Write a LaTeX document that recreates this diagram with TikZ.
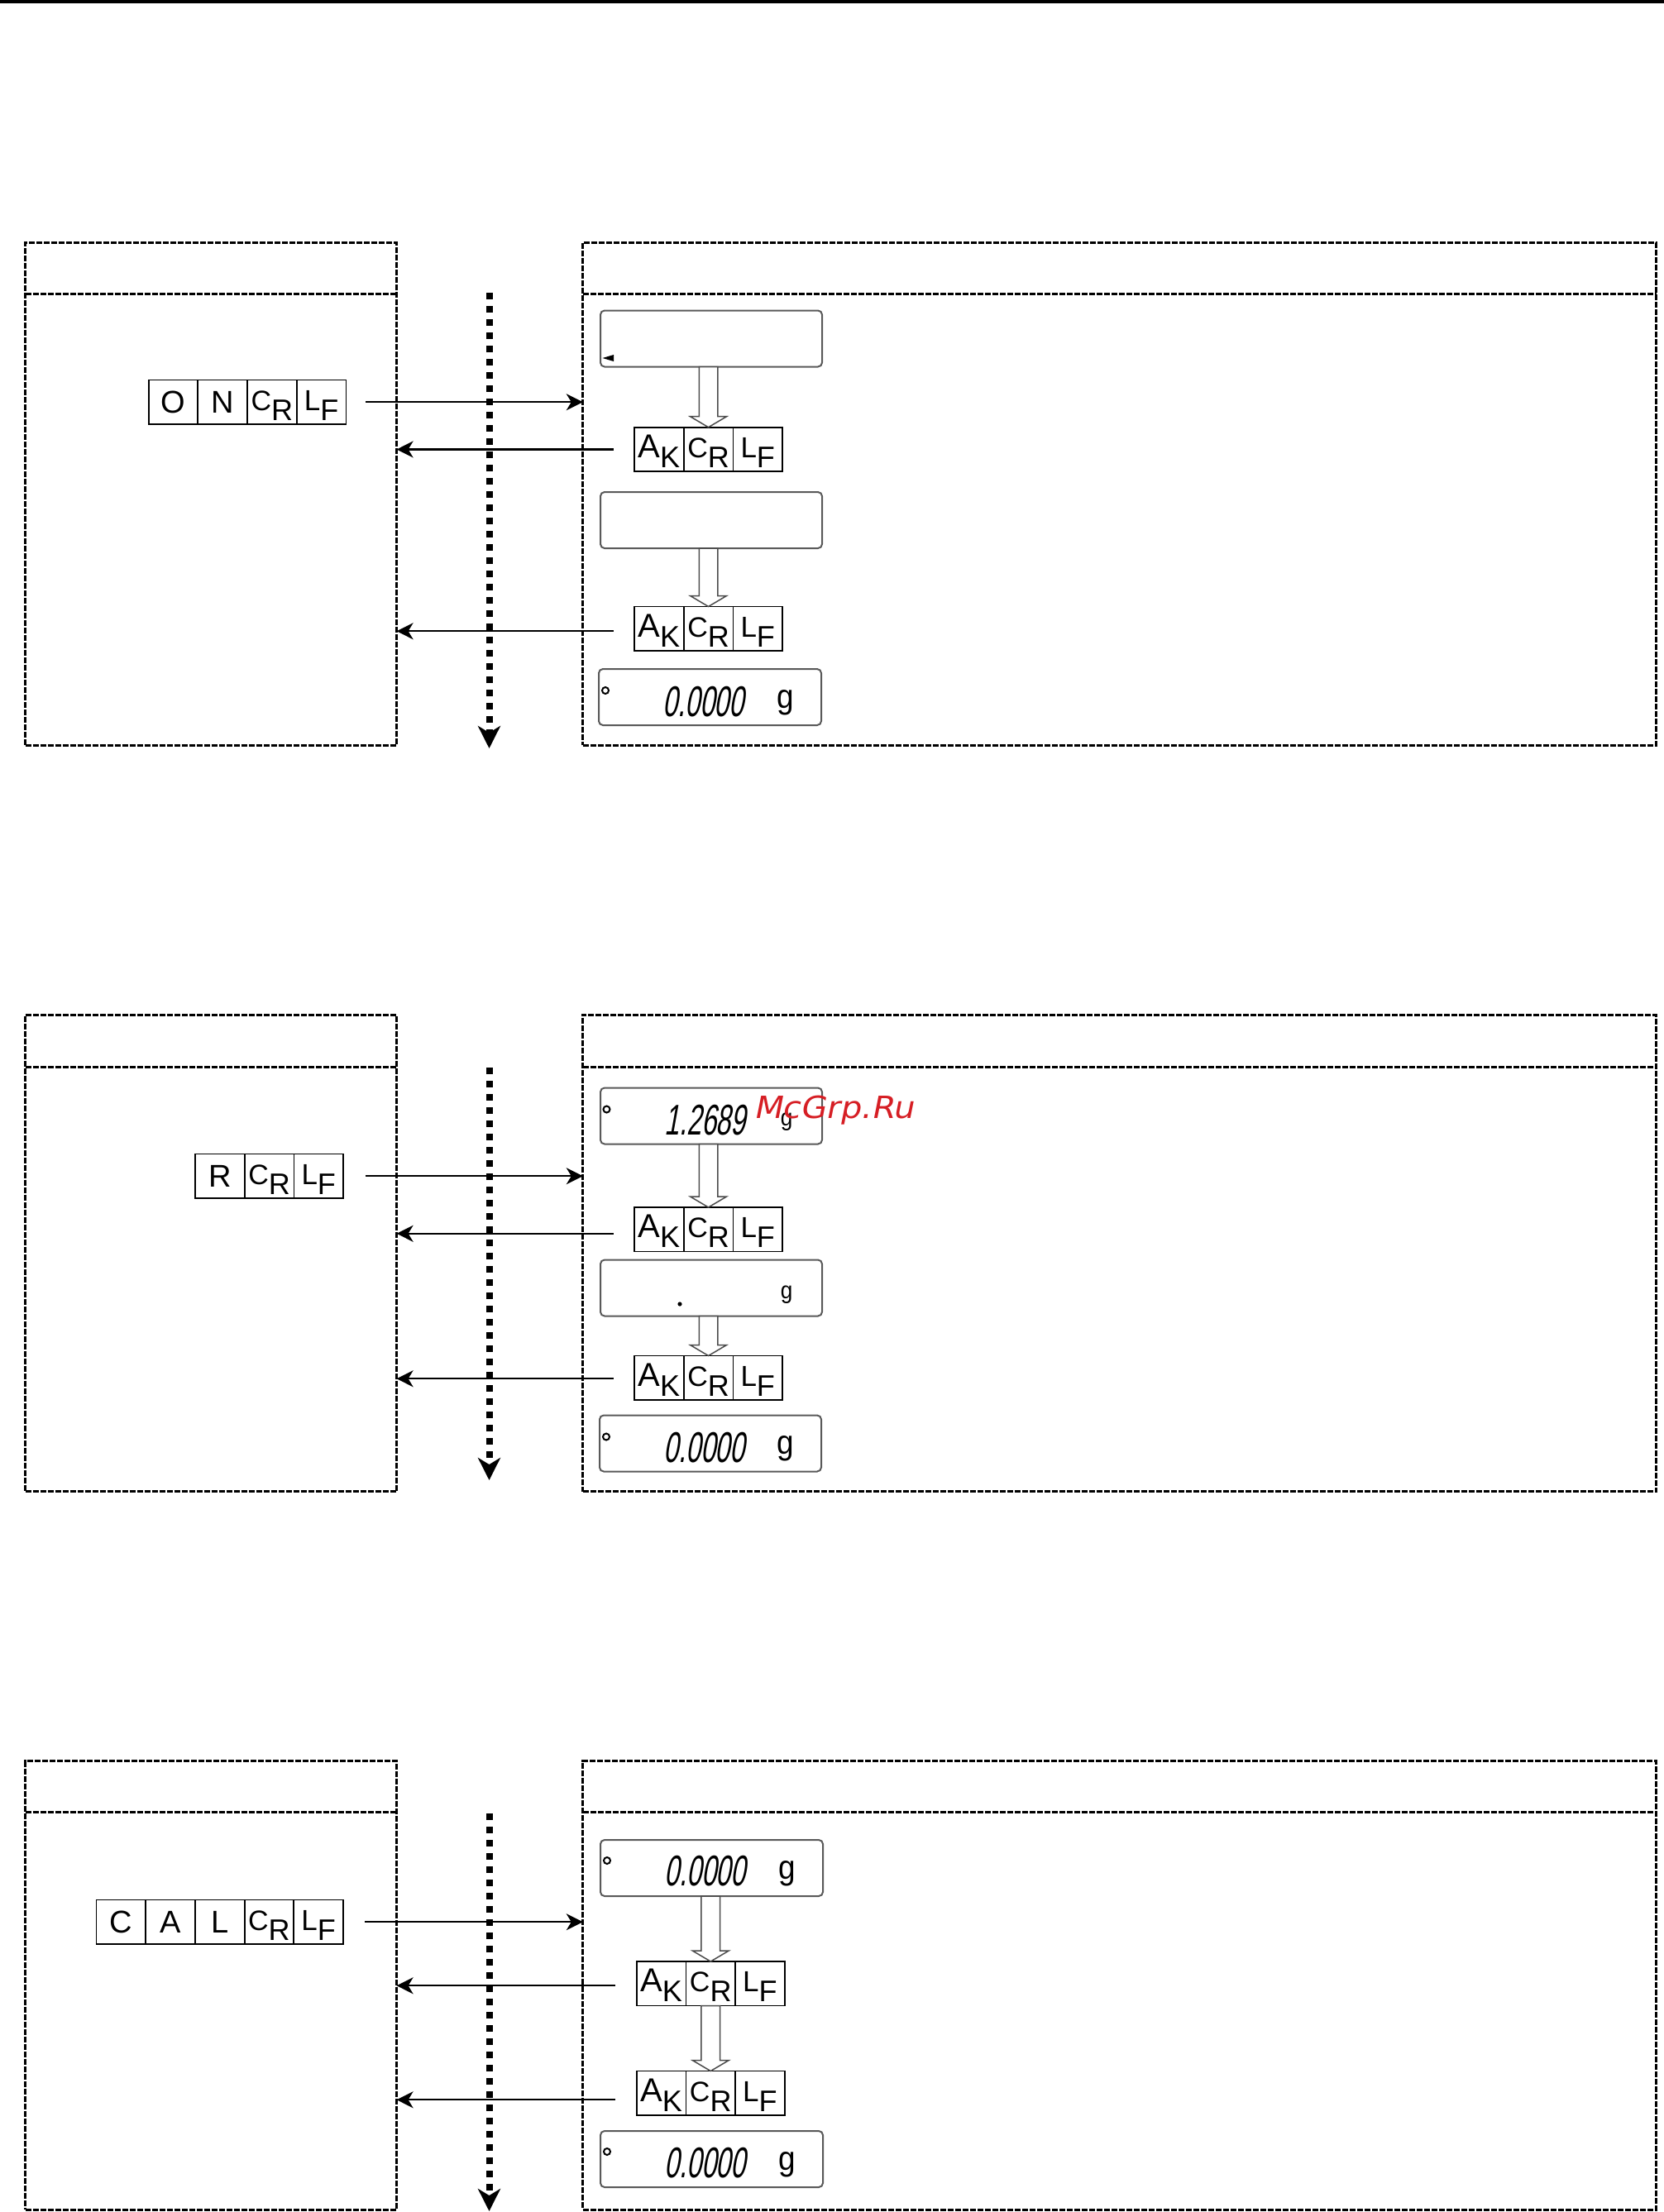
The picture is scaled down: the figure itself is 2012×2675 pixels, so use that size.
\documentclass[tikz,border=0pt]{standalone}
\usepackage{fontspec}
\setmainfont{Liberation Sans}
\newfontfamily\segfont[FakeSlant=0.18,FakeStretch=0.62]{Liberation Sans}
\newfontfamily\gfont[FakeStretch=0.9]{Liberation Sans}
\newfontfamily\wmfont[FakeSlant=0.2,FakeStretch=1.08]{DejaVu Sans}
\usetikzlibrary{arrows.meta,calc}
\definecolor{wmred}{RGB}{214,30,36}
\newcommand\keysgl[1]{{\fontsize{38}{38}\selectfont #1}}
\newcommand\keydbl[3]{\rule[-14.5pt]{0pt}{48.5pt}{\fontsize{#3}{#3}\selectfont #1}\raisebox{-12pt}{\fontsize{36}{36}\selectfont #2}}
\newcommand\kAK{\keydbl{A}{K}{40}}
\newcommand\kCR{\keydbl{C}{R}{34}}
\newcommand\kLF{\keydbl{L}{F}{35}}
\tikzset{
  mainbox/.style={draw, line width=3pt, dash pattern=on 7pt off 2pt, inner sep=0pt, outer sep=0pt, anchor=north west},
  mainline/.style={line width=3pt, dash pattern=on 7pt off 2pt},
  keycell/.style={draw, line width=1.8pt, minimum width=59.7pt, minimum height=53.5pt, inner sep=0pt, outer sep=0pt, anchor=west},
  disp/.style={draw=black!65, line width=2pt, rounded corners=5pt, minimum width=268pt, minimum height=68pt, inner sep=0pt, outer sep=0pt, anchor=north west},
  conn/.style={line width=2.2pt, -{Stealth[length=20pt,width=20pt,inset=6pt]}},
  flow/.style={line width=8pt, dash pattern=on 8pt off 8pt, -{Stealth[length=27pt,width=27pt,inset=8pt]}},
  hollowst/.style={draw=black!70, line width=1.5pt, fill=white},
  digits/.style={font={\segfont\fontsize{52}{52}\selectfont}, inner sep=0pt, anchor=base east},
  gbig/.style={font={\gfont\fontsize{41}{41}\selectfont}, inner sep=0pt, anchor=base},
  gsmall/.style={font={\gfont\fontsize{29}{29}\selectfont}, inner sep=0pt, anchor=base},
  ring/.style={line width=2pt},
}
\newcommand\hollowarrow[2]{\path[hollowst] let \p1=(#1.south), \p2=(#2.north) in
  (\x2-11.3pt,\y1) -- (\x2-11.3pt,\y2+13pt) -- (\x2-22pt,\y2+13pt) -- (\x2,\y2)
  -- (\x2+22pt,\y2+13pt) -- (\x2+11.3pt,\y2+13pt) -- (\x2+11.3pt,\y1) -- cycle;}
\newcommand\akgroup[3]{%
  \node[keycell, anchor=north west] (#1a) at (#2,#3) {\kAK};
  \node[keycell] (#1b) at (#1a.east) {\kCR};
  \node[keycell] (#1c) at (#1b.east) {\kLF};}
\begin{document}
\begin{tikzpicture}[x=1pt,y=-1pt]
\useasboundingbox (0,0) rectangle (2012,2675);
\fill[black] (0,0) rectangle (2012,4);

% ================= Section 1 =================
\node[mainbox, minimum width=448.9pt, minimum height=607.5pt] (lb1) at (30.7,293.5) {};
\node[mainbox, minimum width=1298pt, minimum height=607.5pt] (rb1) at (704.8,293.5) {};
\draw[mainline] (lb1.north west) ++(0,61.5) -- ++(448.9,0);
\draw[mainline] (rb1.north west) ++(0,61.5) -- ++(1298,0);
\coordinate (v1s) at (591.5,354);
\coordinate (v1e) at (591.5,905);
\draw[flow] (v1s) -- (v1e);

\node[keycell, anchor=north west] (on1) at (179.6,459.5) {\keysgl{O}};
\node[keycell] (on2) at (on1.east) {\keysgl{N}};
\node[keycell] (on3) at (on2.east) {\kCR};
\node[keycell] (on4) at (on3.east) {\kLF};

\node[disp] (d11) at (726,375.5) {};
\fill ($(d11.south west)+(2.5,-10.5)$) -- ++(13.5,-4) -- ++(0,8) -- cycle;
\akgroup{ak11}{767}{516.7}
\node[disp] (d12) at (726,595) {};
\akgroup{ak12}{767}{733.5}
\node[disp, minimum width=269pt] (d13) at (724,809) {};
\draw[ring] ($(d13.north west)+(8,26)$) circle (4pt);
\node[digits] (t13) at (900,866) {0.0000};
\node[gbig] (g13) at (949.5,856) {g};

\hollowarrow{d11}{ak11b}
\hollowarrow{d12}{ak12b}

\coordinate (r1) at ([xshift=24pt]on4.east);
\draw[conn] (r1) -- (r1 -| rb1.west);
\coordinate (l11) at ([xshift=-25pt]ak11a.west);
\draw[conn] (l11) -- (l11 -| lb1.east);
\coordinate (l12) at ([xshift=-25pt,yshift=-3pt]ak12a.west);
\draw[conn] (l12) -- (l12 -| lb1.east);

% ================= Section 2 =================
\node[mainbox, minimum width=448.9pt, minimum height=576.6pt] (lb2) at (30.7,1227) {};
\node[mainbox, minimum width=1298pt, minimum height=576.6pt] (rb2) at (704.8,1227) {};
\draw[mainline] (lb2.north west) ++(0,63) -- ++(448.9,0);
\draw[mainline] (rb2.north west) ++(0,63) -- ++(1298,0);
\coordinate (v2s) at (591.5,1291);
\coordinate (v2e) at (591.5,1790);
\draw[flow] (v2s) -- (v2e);

\node[keycell, anchor=north west] (rk1) at (236,1395.5) {\keysgl{R}};
\node[keycell] (rk2) at (rk1.east) {\kCR};
\node[keycell] (rk3) at (rk2.east) {\kLF};

\node[disp] (d21) at (726,1315.5) {};
\draw[ring] ($(d21.north west)+(7.5,26)$) circle (4pt);
\node[digits] (t21) at (902,1372) {1.2689};
\node[gsmall] (g21) at (951,1361.5) {g};
\akgroup{ak21}{767}{1460}
\node[disp] (d22) at (726,1523.5) {};
\fill (822,1577) circle (2.6pt);
\node[gsmall] (g22) at (951,1570) {g};
\akgroup{ak22}{767}{1639.5}
\node[disp] (d23) at (725,1711.5) {};
\draw[ring] ($(d23.north west)+(8,26)$) circle (4pt);
\node[digits] (t23) at (901,1768) {0.0000};
\node[gbig] (g23) at (950,1758.5) {g};

\hollowarrow{d21}{ak21b}
\hollowarrow{d22}{ak22b}

\coordinate (r2) at ([xshift=27pt]rk3.east);
\draw[conn] (r2) -- (r2 -| rb2.west);
\coordinate (l21) at ([xshift=-25pt,yshift=-5pt]ak21a.west);
\draw[conn] (l21) -- (l21 -| lb2.east);
\coordinate (l22) at ([xshift=-25pt,yshift=-1pt]ak22a.west);
\draw[conn] (l22) -- (l22 -| lb2.east);

\node[anchor=base west, inner sep=0pt, text=wmred, font={\wmfont\fontsize{37}{37}\selectfont}] (wm) at (911,1352) {McGrp.Ru};

% ================= Section 3 =================
\node[mainbox, minimum width=448.9pt, minimum height=542.3pt] (lb3) at (30.7,2129.7) {};
\node[mainbox, minimum width=1298pt, minimum height=542.3pt] (rb3) at (704.8,2129.7) {};
\draw[mainline] (lb3.north west) ++(0,61.3) -- ++(448.9,0);
\draw[mainline] (rb3.north west) ++(0,61.3) -- ++(1298,0);
\coordinate (v3s) at (591.5,2193);
\coordinate (v3e) at (591.5,2674);
\draw[flow] (v3s) -- (v3e);

\node[keycell, anchor=north west] (ck1) at (116.5,2297.5) {\keysgl{C}};
\node[keycell] (ck2) at (ck1.east) {\keysgl{A}};
\node[keycell] (ck3) at (ck2.east) {\keysgl{L}};
\node[keycell] (ck4) at (ck3.east) {\kCR};
\node[keycell] (ck5) at (ck4.east) {\kLF};

\node[disp, minimum width=269pt] (d31) at (726,2225) {};
\draw[ring] ($(d31.north west)+(8,25)$) circle (4pt);
\node[digits] (t31) at (902,2280) {0.0000};
\node[gbig] (g31) at (951.5,2272) {g};
\akgroup{ak31}{769.7}{2372}
\akgroup{ak32}{769.7}{2504.5}
\node[disp, minimum width=269pt] (d32) at (726,2577) {};
\draw[ring] ($(d32.north west)+(8,25)$) circle (4pt);
\node[digits] (t32) at (902,2633) {0.0000};
\node[gbig] (g32) at (951.5,2624) {g};

\hollowarrow{d31}{ak31b}
\hollowarrow{ak31b}{ak32b}

\coordinate (r3) at ([xshift=26pt]ck5.east);
\draw[conn] (r3) -- (r3 -| rb3.west);
\coordinate (l31) at ([xshift=-26pt,yshift=-2.5pt]ak31a.west);
\draw[conn] (l31) -- (l31 -| lb3.east);
\coordinate (l32) at ([xshift=-26pt,yshift=-8pt]ak32a.west);
\draw[conn] (l32) -- (l32 -| lb3.east);
\end{tikzpicture}
\end{document}
